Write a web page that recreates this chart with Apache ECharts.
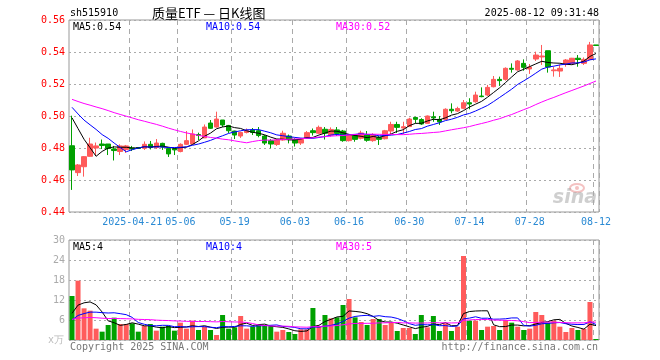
<!DOCTYPE html>
<html><head><meta charset="utf-8">
<script src="https://cdn.jsdelivr.net/npm/echarts@6/dist/echarts.min.js"></script>
<style>html,body{margin:0;padding:0;background:#fff}#c{width:660px;height:360px}</style>
</head><body><div id="c"></div>
<script>
const dates = ['2025-04-07','2025-04-08','2025-04-09','2025-04-10','2025-04-11','2025-04-14','2025-04-15','2025-04-16','2025-04-17','2025-04-18',
'2025-04-21','2025-04-22','2025-04-23','2025-04-24','2025-04-25','2025-04-28','2025-04-29','2025-04-30','2025-05-06','2025-05-07',
'2025-05-08','2025-05-09','2025-05-12','2025-05-13','2025-05-14','2025-05-15','2025-05-16','2025-05-19','2025-05-20','2025-05-21',
'2025-05-22','2025-05-23','2025-05-26','2025-05-27','2025-05-28','2025-05-29','2025-05-30','2025-06-03','2025-06-04','2025-06-05',
'2025-06-06','2025-06-09','2025-06-10','2025-06-11','2025-06-12','2025-06-13','2025-06-16','2025-06-17','2025-06-18','2025-06-19',
'2025-06-20','2025-06-23','2025-06-24','2025-06-25','2025-06-26','2025-06-27','2025-06-30','2025-07-01','2025-07-02','2025-07-03',
'2025-07-04','2025-07-07','2025-07-08','2025-07-09','2025-07-10','2025-07-11','2025-07-14','2025-07-15','2025-07-16','2025-07-17',
'2025-07-18','2025-07-21','2025-07-22','2025-07-23','2025-07-24','2025-07-25','2025-07-28','2025-07-29','2025-07-30','2025-07-31',
'2025-08-01','2025-08-04','2025-08-05','2025-08-06','2025-08-07','2025-08-08','2025-08-11','2025-08-12'];

const opens = [0.4814,0.4646,0.4683,0.4748,0.4800,0.4825,0.4825,0.4794,0.4778,0.4791,
0.4800,0.4803,0.4798,0.4823,0.4803,0.4829,0.4797,0.4797,0.4778,0.4823,
0.4825,0.4884,0.4863,0.4956,0.4931,0.4975,0.4941,0.4906,0.4875,0.4897,
0.4913,0.4908,0.4875,0.4846,0.4822,0.4850,0.4875,0.4853,0.4831,0.4861,
0.4908,0.4892,0.4917,0.4881,0.4913,0.4906,0.4846,0.4878,0.4861,0.4884,
0.4846,0.4866,0.4858,0.4906,0.4947,0.4925,0.4934,0.4991,0.4978,0.4954,
0.4995,0.4979,0.4979,0.5042,0.5031,0.5048,0.5083,0.5089,0.5125,0.5131,
0.5183,0.5229,0.5229,0.5298,0.5288,0.5329,0.5294,0.5356,0.5369,0.5408,
0.5283,0.5281,0.5325,0.5329,0.5361,0.5329,0.5354,0.5444];
const closes = [0.4663,0.4694,0.4746,0.4825,0.4813,0.4816,0.4797,0.4784,0.4813,0.4813,
0.4794,0.4797,0.4823,0.4803,0.4831,0.4806,0.4763,0.4788,0.4823,0.4846,
0.4888,0.4878,0.4931,0.4923,0.4981,0.4944,0.4908,0.4881,0.4897,0.4908,
0.4897,0.4878,0.4831,0.4825,0.4850,0.4892,0.4854,0.4831,0.4853,0.4896,
0.4896,0.4929,0.4892,0.4916,0.4891,0.4846,0.4881,0.4854,0.4894,0.4848,
0.4883,0.4854,0.4908,0.4947,0.4929,0.4933,0.4981,0.4979,0.4950,0.5000,
0.4988,0.4963,0.5042,0.5033,0.5047,0.5083,0.5075,0.5131,0.5121,0.5179,
0.5229,0.5221,0.5298,0.5292,0.5344,0.5304,0.5306,0.5381,0.5375,0.5306,
0.5288,0.5298,0.5350,0.5361,0.5353,0.5354,0.5444,0.5441];
const lows = [0.4538,0.4625,0.4621,0.4746,0.4750,0.4794,0.4756,0.4722,0.4756,0.4769,
0.4781,0.4794,0.4788,0.4791,0.4794,0.4788,0.4744,0.4756,0.4773,0.4819,
0.4825,0.4850,0.4863,0.4919,0.4928,0.4931,0.4894,0.4856,0.4863,0.4891,
0.4881,0.4867,0.4819,0.4798,0.4813,0.4846,0.4829,0.4809,0.4819,0.4859,
0.4878,0.4888,0.4853,0.4871,0.4875,0.4839,0.4841,0.4839,0.4854,0.4839,
0.4839,0.4819,0.4854,0.4884,0.4894,0.4888,0.4931,0.4954,0.4944,0.4953,
0.4964,0.4944,0.4975,0.5017,0.5025,0.5042,0.5042,0.5083,0.5117,0.5125,
0.5179,0.5188,0.5221,0.5271,0.5283,0.5283,0.5263,0.5344,0.5319,0.5271,
0.5246,0.5244,0.5308,0.5328,0.5308,0.5319,0.5350,0.5441];
const highs = [0.5002,0.4700,0.4750,0.4864,0.4834,0.4853,0.4825,0.4813,0.4823,0.4819,
0.4813,0.4806,0.4841,0.4844,0.4856,0.4833,0.4802,0.4800,0.4829,0.4906,
0.4916,0.4896,0.4947,0.4975,0.5027,0.4975,0.4944,0.4908,0.4902,0.4922,
0.4925,0.4931,0.4881,0.4856,0.4856,0.4908,0.4884,0.4861,0.4861,0.4906,
0.4922,0.4940,0.4931,0.4929,0.4931,0.4913,0.4884,0.4884,0.4908,0.4906,
0.4892,0.4875,0.4913,0.4964,0.4964,0.4964,0.4989,0.4995,0.4986,0.5003,
0.5027,0.5000,0.5048,0.5079,0.5058,0.5100,0.5111,0.5152,0.5179,0.5194,
0.5250,0.5246,0.5304,0.5329,0.5350,0.5354,0.5325,0.5402,0.5444,0.5408,
0.5308,0.5322,0.5356,0.5363,0.5381,0.5366,0.5463,0.5444];
const volumes = [13.2,17.8,9.5,8.8,3.4,2.5,4.5,6.7,4.8,4.8,
5.0,2.5,4.2,4.8,2.8,4.0,4.2,2.8,5.2,3.4,
5.8,3.0,4.0,3.0,1.5,7.5,3.4,3.8,7.2,3.4,
4.0,4.7,4.5,4.2,2.5,3.0,2.4,1.8,3.2,3.2,
9.6,4.2,7.5,6.5,6.8,10.5,12.3,6.8,5.4,4.5,
6.3,6.3,4.5,5.4,2.7,3.6,3.6,1.8,7.5,3.8,
7.2,2.7,5.0,2.7,4.0,25.2,5.8,5.8,3.0,4.0,
4.2,3.0,6.0,5.2,4.0,3.0,3.4,8.4,7.5,5.2,
5.8,4.0,2.4,3.6,3.0,3.3,11.4,0.3];

// sessions before the visible window (needed for the moving averages at the left edge)
const priorCloses = [0.510,0.512,0.514,0.515,0.513,0.516,0.517,0.515,0.514,0.512,
0.513,0.511,0.510,0.512,0.514,0.513,0.511,0.512,0.513,0.511,
0.511,0.513,0.512,0.510,0.514,0.503,0.508,0.509,0.508];
const priorVolumes = [6.5,7.0,6.0,5.5,6.8,7.2,6.4,5.9,6.1,6.6,
6.3,5.8,6.2,7.0,6.4,5.6,6.0,6.3,6.5,5.9,
4.2,3.8,4.5,3.5,4.0,5.5,6.0,7.5,7.8];

const tickDates = ['2025-04-21','2025-05-06','2025-05-19','2025-06-03','2025-06-16','2025-06-30','2025-07-14','2025-07-28','2025-08-12'];
const tickLabels = ['2025-04-21','05-06','05-19','06-03','06-16','06-30','07-14','07-28','08-12'];

const priceLegend = ['MA5:0.54','MA10:0.54','MA30:0.52'];
const volLegend = ['MA5:4','MA10:4','MA30:5'];

function movingAvg(prior, arr, n) {
  const full = prior.concat(arr);
  return arr.map((_, i) => {
    const end = prior.length + i;
    let s = 0;
    for (let k = end - n + 1; k <= end; k++) s += full[k];
    return +(s / n).toFixed(5);
  });
}

const RED = '#ff5b5b', GREEN = '#00a000';
const FONT = 'DejaVu Sans Mono';
const tickSet = new Set(tickDates);
const showTick = (idx, val) => tickSet.has(dates[idx]);

const chart = echarts.init(document.getElementById('c'), null, {renderer: 'canvas'});

const candleData = dates.map((d, i) => [opens[i], closes[i], lows[i], highs[i]]);
const volData = volumes.map((v, i) => ({value: v, itemStyle: {color: closes[i] >= opens[i] ? RED : GREEN}}));

const maLine = (name, data, color, xi, yi) => ({
  name, type: 'line', data, xAxisIndex: xi, yAxisIndex: yi, showSymbol: false, symbol: 'none',
  lineStyle: {color, width: 1}, animation: false, z: 5
});

const xCommon = {
  type: 'category', data: dates, boundaryGap: true,
  axisLine: {show: false}, axisTick: {show: false},
  splitLine: {show: true, interval: showTick, lineStyle: {color: '#aaa', type: [5, 4], width: 1}}
};
const text = (x, y, t, color, align, size) => ({
  type: 'text', x, y, silent: true,
  style: {text: t, fill: color, font: (size || 10) + 'px "' + FONT + '"', textAlign: align || 'left', textVerticalAlign: 'middle'}
});

chart.setOption({
  animation: false,
  backgroundColor: '#fff',
  grid: [
    {left: 69, right: 61, top: 20, height: 192, show: true, borderColor: '#999', borderWidth: 1},
    {left: 69, right: 61, top: 240, height: 100, show: true, borderColor: '#999', borderWidth: 1}
  ],
  xAxis: [
    Object.assign({}, xCommon, {gridIndex: 0,
      axisLabel: {interval: showTick, formatter: (v) => tickLabels[tickDates.indexOf(v)] || '', color: '#2a8ad4', fontFamily: FONT, fontSize: 10, margin: 5}}),
    Object.assign({}, xCommon, {gridIndex: 1, axisLabel: {show: false}})
  ],
  yAxis: [
    {gridIndex: 0, min: 0.44, max: 0.56, interval: 0.02, position: 'left',
      axisLine: {show: false}, axisTick: {show: false},
      axisLabel: {color: '#ff0000', fontFamily: FONT, fontSize: 10, margin: 4, formatter: (v) => v.toFixed(2)},
      splitLine: {show: true, lineStyle: {color: '#aaa', type: [2, 3]}}},
    {gridIndex: 1, min: 0, max: 30, interval: 6, position: 'left',
      axisLine: {show: false}, axisTick: {show: false},
      axisLabel: {color: '#aaa', fontFamily: FONT, fontSize: 10, margin: 4, formatter: (v) => v === 0 ? '' : String(v)},
      splitLine: {show: true, lineStyle: {color: '#aaa', type: [2, 3]}}}
  ],
  series: [
    {type: 'candlestick', xAxisIndex: 0, yAxisIndex: 0, data: candleData, barWidth: 5,
      itemStyle: {color: RED, color0: GREEN, borderColor: RED, borderColor0: GREEN, borderWidth: 1}, z: 3},
    maLine('MA5', movingAvg(priorCloses, closes, 5), '#000000', 0, 0),
    maLine('MA10', movingAvg(priorCloses, closes, 10), '#0000ff', 0, 0),
    maLine('MA30', movingAvg(priorCloses, closes, 30), '#ff00ff', 0, 0),
    {type: 'bar', xAxisIndex: 1, yAxisIndex: 1, data: volData, barWidth: 5, z: 3},
    maLine('VMA5', movingAvg(priorVolumes, volumes, 5), '#000000', 1, 1),
    maLine('VMA10', movingAvg(priorVolumes, volumes, 10), '#0000ff', 1, 1),
    maLine('VMA30', movingAvg(priorVolumes, volumes, 30), '#ff00ff', 1, 1)
  ],
  graphic: [
    text(70, 13, 'sh515910', '#000', 'left', 10),
    {type: 'text', x: 152, y: 13, silent: true, style: {text: '质量ETF — 日K线图', fill: '#000', font: '13px "Noto Sans CJK SC"', textVerticalAlign: 'middle'}},
    text(599, 13, '2025-08-12 09:31:48', '#000', 'right', 10),
    text(73, 27, priceLegend[0], '#000', 'left', 10),
    text(206, 27, priceLegend[1], '#0000ff', 'left', 10),
    text(336, 27, priceLegend[2], '#ff00ff', 'left', 10),
    text(73, 247, volLegend[0], '#000', 'left', 10),
    text(206, 247, volLegend[1], '#0000ff', 'left', 10),
    text(336, 247, volLegend[2], '#ff00ff', 'left', 10),
    text(48, 340, 'x万', '#bbb', 'left', 10),
    text(70, 347, 'Copyright 2025 SINA.COM', '#777', 'left', 10),
    text(598, 347, 'http://finance.sina.com.cn', '#777', 'right', 10),
    {type: 'ellipse', silent: true, z: 0, shape: {cx: 577, cy: 188, rx: 7, ry: 4},
      style: {fill: 'none', stroke: 'rgba(230,120,120,0.45)', lineWidth: 2}},
    {type: 'circle', silent: true, z: 0, shape: {cx: 577, cy: 188, r: 2},
      style: {fill: 'rgba(230,120,120,0.45)'}},
    {type: 'text', x: 597, y: 198, silent: true, z: 0, style: {text: 'sina', fill: 'rgba(160,160,160,0.5)', font: 'italic bold 19px "DejaVu Sans"', textAlign: 'right', textVerticalAlign: 'middle'}}
  ]
});
</script>
</body></html>
